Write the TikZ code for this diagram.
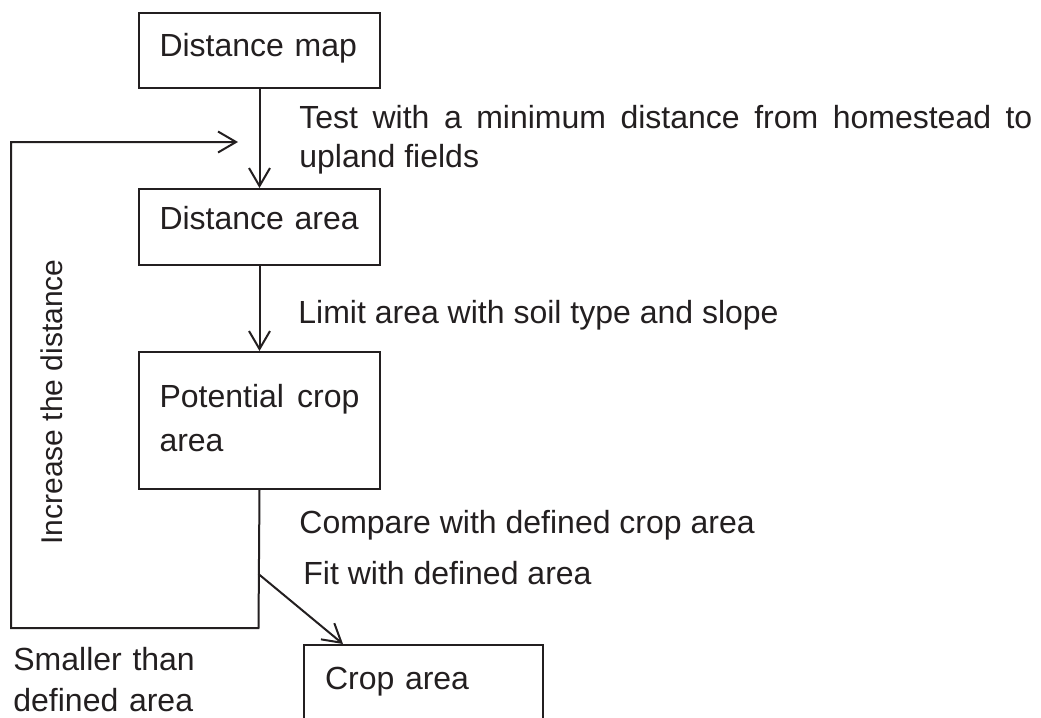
\documentclass[tikz,border=0pt]{standalone}
\usepackage{fontspec}
\setmainfont{Liberation Sans}
\usetikzlibrary{arrows.meta,calc}
\definecolor{ink}{HTML}{231F20}
\begin{document}
\begin{tikzpicture}[x=0.5pt,y=-0.5pt,
  every node/.style={text=ink, inner sep=0pt},
  stepbox/.style={draw=ink, line width=1pt, rectangle, anchor=north west,
    inner xsep=10.25pt, inner ysep=0pt, text width=100pt, align=left,
    font={\fontsize{16pt}{20pt}\selectfont}},
  lbl/.style={anchor=base west, align=left, font={\fontsize{16pt}{20pt}\selectfont}},
  flow/.style={draw=ink, line width=1pt,
    -{Straight Barb[length=9pt,width=10.5pt,line width=1pt]}},
  wire/.style={draw=ink, line width=1pt}]
\clip (0,0) rectangle (1041,718);

% process boxes
\node[stepbox, text height=21.5pt, text depth=16pt] (dmap) at (138,12) {Distance map};
\node[stepbox, text height=20pt, text depth=18pt] (darea) at (138,188) {Distance area};
\node[stepbox, align=justify, text height=27.5pt, text depth=41pt,
  font={\fontsize{16pt}{22pt}\selectfont}] (pca) at (138,351) {Potential crop area};
\node[stepbox, inner xsep=10.5pt, text width=98.5pt, text height=22pt, text depth=40pt]
  (crop) at (303,644) {Crop area};

% step labels
\node[lbl, text width=366.5pt, align=justify, font={\fontsize{16pt}{19.5pt}\selectfont}]
  (ltest) at (299,128) {Test with a minimum distance from homestead to\linebreak upland fields};
\node[lbl] (llimit) at (298,323) {Limit area with soil type and slope};
\node[lbl] (lcomp) at (299,533) {Compare with defined crop area};
\node[lbl] (lfit) at (303,584) {Fit with defined area};
\node[lbl, text width=110pt, font={\fontsize{16pt}{20.5pt}\selectfont}]
  (lsmall) at (13,670) {Smaller than\\defined area};
\node[anchor=base, rotate=90, font={\fontsize{15pt}{18pt}\selectfont}]
  (linc) at (62,402) {Increase the distance};

% main flow
\draw[flow] (dmap.south) -- (darea.north);
\draw[flow] (darea.south) -- (pca.north);

% feedback loop and exit
\coordinate (turn) at (258.5,628);
\coordinate (fork) at (258.5,574);
\coordinate (loopcorner) at (11,142);
\coordinate (back) at (238,142);
\draw[flow] (pca.south) -- (turn) -| (loopcorner) -- (back);
\draw[flow] (fork) -- ($(crop.north west)+(40,0)$);
\end{tikzpicture}
\end{document}
